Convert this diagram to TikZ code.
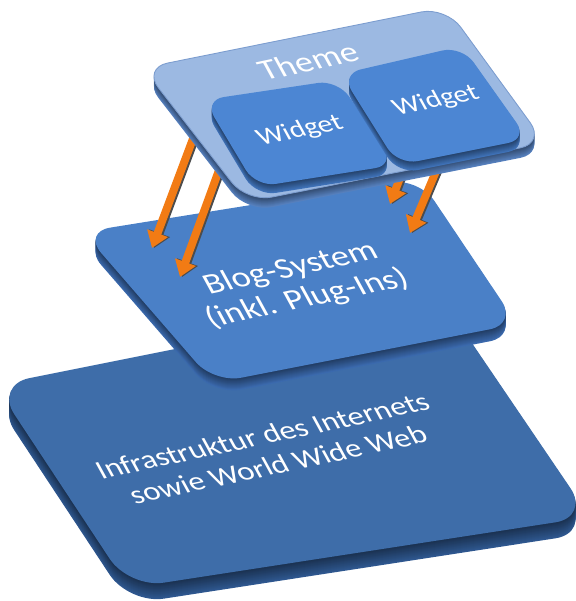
\documentclass[tikz,border=0pt]{standalone}
\usepackage{fontspec}
\setmainfont{Carlito}
\usetikzlibrary{arrows.meta}

\definecolor{infraFace}{HTML}{3E6DA9}
\definecolor{infraSide}{HTML}{2F5890}
\definecolor{blogFace}{HTML}{4A80C7}
\definecolor{blogSide}{HTML}{3B6AAE}
\definecolor{themeFace}{HTML}{9CB9E2}
\definecolor{themeSide}{HTML}{5680BE}
\definecolor{themeEdge}{HTML}{7C9DCF}
\definecolor{widgetFace}{HTML}{4C86D3}
\definecolor{widgetSide}{HTML}{3F72B8}
\definecolor{arrowOrange}{HTML}{F27B14}

% a tilted layer: stacked copies for the side, then the face
% #1..#4 corners, #5 thickness, #6 side colour, #7 face colour, #8 corner radius
\newcommand{\slab}[8]{%
  \foreach \dz in {#5,...,1}{
    \pgfmathtruncatemacro{\mixpct}{55+45*\dz/#5}
    \fill[#6!\mixpct!black, rounded corners=#8, shift={(0,\dz)}] (#1) -- (#2) -- (#3) -- (#4) -- cycle;
  }
  \fill[#7, rounded corners=#8] (#1) -- (#2) -- (#3) -- (#4) -- cycle;
}

\tikzset{
  layerText/.style={text=white, align=center, inner sep=0pt, rotate=12, xslant=-0.3, yscale=0.85},
  flowArrow/.style={draw=arrowOrange, line width=4.5pt, -{Triangle[width=12pt,length=9pt]}},
  flowShadow/.style={draw=black!70, line width=4.5pt, -{Triangle[width=12pt,length=9pt]}},
}

\begin{document}
\begin{tikzpicture}[x=0.02cm,y=-0.02cm]
	\useasboundingbox (0,0) rectangle (575,601);

	% bottom layer
	\slab{-5,385}{440,296}{590,517}{129,588}{16}{infraSide}{infraFace}{0.7cm}
	\node[layerText, font=\fontsize{18}{21}\selectfont] (infraLabel) at (270,450) {Infrastruktur des Internets\\sowie World Wide Web};

	% middle layer
	\slab{83,232}{419,178}{517,324}{214,383}{12}{blogSide}{blogFace}{0.55cm}
	\node[layerText, font=\fontsize{20}{22}\selectfont] (blogLabel) at (299,284) {Blog-System\\(inkl. Plug-Ins)};

	% arrow ends (tails hidden below the theme)
	\coordinate (themeOutA) at (200,120);
	\coordinate (themeOutB) at (230,140);
	\coordinate (themeOutC) at (405,165);
	\coordinate (themeOutD) at (445,150);
	\coordinate (blogInA) at (152,248);
	\coordinate (blogInB) at (180,277);
	\coordinate (blogInC) at (390,204);
	\coordinate (blogInD) at (410,233);

	% arrows
	\foreach \k in {A,B,C,D}{
		\draw[flowShadow] ([xshift=1.2pt]themeOut\k) -- ([xshift=1.2pt]blogIn\k);
		\draw[flowArrow] (themeOut\k) -- (blogIn\k);
	}

	% top layer
	\slab{143,68}{446,7}{545,143}{247,202}{10}{themeSide}{themeFace}{0.5cm}
	\draw[themeEdge, line width=0.5pt, rounded corners=0.5cm] (143,68) -- (446,7) -- (545,143) -- (247,202) -- cycle;
	\node[layerText, font=\fontsize{20}{24}\selectfont] (themeLabel) at (308,61) {Theme};

	% widgets
	\slab{204,100}{338,80}{395,165}{256,187}{9}{widgetSide}{widgetFace}{0.4cm}
	\slab{341,74}{462,46}{528,139}{398,165}{9}{widgetSide}{widgetFace}{0.4cm}
	\node[layerText, font=\fontsize{16.5}{20}\selectfont] (widgetLeft) at (300,131) {Widget};
	\node[layerText, font=\fontsize{16.5}{20}\selectfont] (widgetRight) at (436,101) {Widget};

\end{tikzpicture}
\end{document}
